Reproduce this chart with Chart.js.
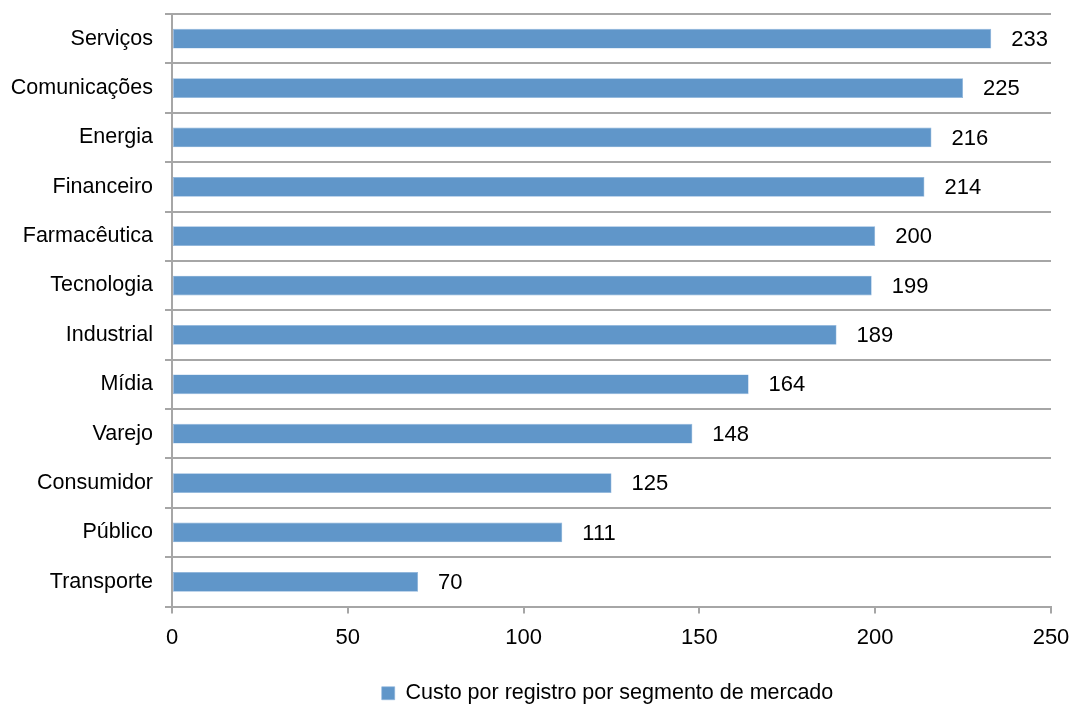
<!DOCTYPE html>
<html>
<head>
<meta charset="utf-8">
<script src="https://cdn.jsdelivr.net/npm/chart.js@4.4.0/dist/chart.umd.min.js"></script>
<style>
  html, body { margin: 0; padding: 0; background: #fff; }
  #wrap { width: 1075px; height: 704px; }
</style>
</head>
<body>
<div id="wrap"><canvas id="chart"></canvas></div>
<script>
const categories = ['Serviços', 'Comunicações', 'Energia', 'Financeiro', 'Farmacêutica', 'Tecnologia',
    'Industrial', 'Mídia', 'Varejo', 'Consumidor', 'Público', 'Transporte'];
const costValues = [233, 225, 216, 214, 200, 199, 189, 164, 148, 125, 111, 70];
const seriesLabel = 'Custo por registro por segmento de mercado';
const xTicks = [0, 50, 100, 150, 200, 250];

const FONT = '"Liberation Sans", Arial, sans-serif';
const BAR_COLOR = '#6096c9';
const GRID_COLOR = '#a6a6a6';

// draws the value next to the end of each bar
const valueLabels = {
    id: 'valueLabels',
    afterDatasetsDraw(chart) {
        const ctx = chart.ctx;
        const meta = chart.getDatasetMeta(0);
        ctx.save();
        ctx.font = '22px ' + FONT;
        ctx.fillStyle = '#000';
        ctx.textAlign = 'left';
        ctx.textBaseline = 'middle';
        meta.data.forEach((bar, i) => {
            ctx.fillText(String(costValues[i]), bar.x + 20, bar.y + 1);
        });
        ctx.restore();
    }
};

// legend sits under the plot area rather than the whole canvas
const legendShift = {
    id: 'legendShift',
    afterLayout(chart) {
        chart.legend.left += 82;
        chart.legend.right += 82;
    }
};

const ctx = document.getElementById('chart').getContext('2d');
new Chart(ctx, {
    type: 'bar',
    data: {
        labels: categories,
        datasets: [{
            label: seriesLabel,
            data: costValues,
            backgroundColor: BAR_COLOR,
            borderColor: '#8db4dc',
            borderWidth: 0.6,
            borderSkipped: false,
            barPercentage: 0.4,
            categoryPercentage: 1.0
        }]
    },
    options: {
        indexAxis: 'y',
        responsive: true,
        maintainAspectRatio: false,
        animation: false,
        layout: { padding: { top: 14, right: 24, left: 0, bottom: -10 } },
        scales: {
            x: {
                min: 0,
                max: 250,
                afterBuildTicks: scale => { scale.ticks = xTicks.map(v => ({ value: v })); },
                afterFit: scale => {
                    scale.height = 63;
                    scale.paddingLeft = 0;
                    scale.paddingRight = 0;
                },
                grid: {
                    drawOnChartArea: false,
                    drawTicks: true,
                    tickLength: 7,
                    tickColor: GRID_COLOR,
                    lineWidth: 2
                },
                border: { display: true, color: GRID_COLOR, width: 2 },
                ticks: {
                    color: '#000',
                    font: { family: FONT, size: 22 },
                    padding: 11,
                    maxRotation: 0
                }
            },
            y: {
                afterFit: scale => {
                    scale.width = 172;
                    scale.paddingTop = 0;
                    scale.paddingBottom = 0;
                },
                grid: {
                    offset: true,
                    color: GRID_COLOR,
                    lineWidth: 2,
                    tickLength: 7,
                    tickColor: GRID_COLOR
                },
                border: { display: true, color: GRID_COLOR, width: 2 },
                ticks: {
                    color: '#000',
                    font: { family: FONT, size: 21.5 },
                    padding: 12
                }
            }
        },
        plugins: {
            legend: {
                position: 'bottom',
                labels: {
                    color: '#000',
                    font: { family: FONT, size: 21.5 },
                    boxWidth: 13,
                    boxHeight: 13,
                    padding: 13
                }
            },
            tooltip: { enabled: false }
        }
    },
    plugins: [valueLabels, legendShift]
});
</script>
</body>
</html>
